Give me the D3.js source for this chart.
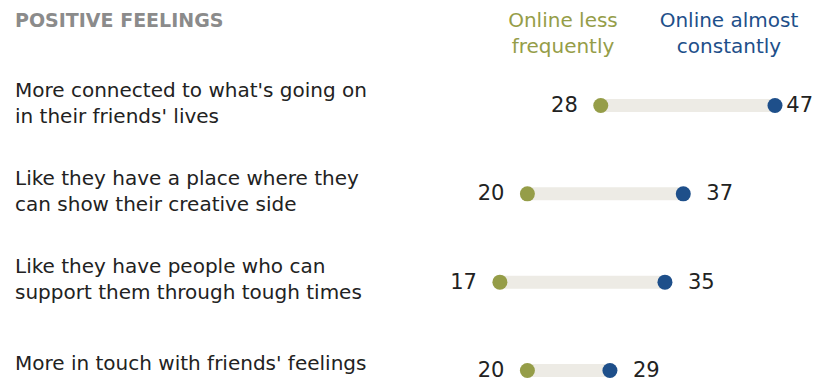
<!DOCTYPE html>
<html>
<head>
<meta charset="utf-8">
<script src="https://cdn.jsdelivr.net/npm/d3@7"></script>
<style>
    html, body { margin: 0; padding: 0; background: #fff; }
    svg { display: block; font-family: "DejaVu Sans", sans-serif; }
</style>
</head>
<body>
<svg id="chart" width="824" height="382"></svg>
<script>
'use strict';

// data
var categories = [
    ["More connected to what's going on", "in their friends' lives"],
    ["Like they have a place where they", "can show their creative side"],
    ["Like they have people who can", "support them through tough times"],
    ["More in touch with friends' feelings"]
];
var lessFrequently = [28, 20, 17, 20];
var almostConstantly = [47, 37, 35, 29];
var seriesNames = [["Online less", "frequently"], ["Online almost", "constantly"]];
var title = "POSITIVE FEELINGS";

var colors = { less: "#959d48", constant: "#1e4f8a", bar: "#edebe5", text: "#222", title: "#8b8b8b" };

var rows = categories.map(function(c, i) {
    return { id: i, label: c, less: lessFrequently[i], constant: almostConstantly[i] };
});

var svg = d3.select("#chart");

var x = d3.scaleLinear().domain([0, 50]).range([344, 802.5]);
var y = d3.scalePoint().domain(d3.range(rows.length)).range([105.5, 370.5]);

// title
svg.append("text")
    .attr("x", 15)
    .attr("y", 27)
    .style("font-size", "19px")
    .style("font-weight", "bold")
    .style("fill", colors.title)
    .text(title);

// series headers
var legend = svg.selectAll(".legend")
    .data([{ lines: seriesNames[0], cx: 563, color: colors.less },
           { lines: seriesNames[1], cx: 729, color: colors.constant }])
    .enter().append("text")
    .attr("class", "legend")
    .attr("text-anchor", "middle")
    .style("font-size", "20px")
    .style("fill", function(d) { return d.color; });

legend.selectAll("tspan")
    .data(function(d) { return d.lines.map(function(l) { return { t: l, cx: d.cx }; }); })
    .enter().append("tspan")
    .attr("x", function(d) { return d.cx; })
    .attr("y", function(d, i) { return 27 + i * 26; })
    .text(function(d) { return d.t; });

var row = svg.selectAll(".row")
    .data(rows)
    .enter().append("g")
    .attr("class", "row");

// category labels
var label = row.append("text")
    .style("font-size", "20px")
    .style("fill", colors.text);

label.selectAll("tspan")
    .data(function(d) {
        var top = y(d.id) - 9 + (2 - d.label.length) * 8;
        return d.label.map(function(l, i) { return { t: l, y: top + i * 26 }; });
    })
    .enter().append("tspan")
    .attr("x", 15)
    .attr("y", function(d) { return d.y; })
    .text(function(d) { return d.t; });

// connecting bar
row.append("line")
    .attr("x1", function(d) { return x(d.less); })
    .attr("x2", function(d) { return x(d.constant); })
    .attr("y1", function(d) { return y(d.id); })
    .attr("y2", function(d) { return y(d.id); })
    .style("stroke", colors.bar)
    .style("stroke-width", 13);

// dots
row.append("circle")
    .attr("cx", function(d) { return x(d.less); })
    .attr("cy", function(d) { return y(d.id); })
    .attr("r", 7.5)
    .style("fill", colors.less);

row.append("circle")
    .attr("cx", function(d) { return x(d.constant); })
    .attr("cy", function(d) { return y(d.id); })
    .attr("r", 7.5)
    .style("fill", colors.constant);

// value labels
row.append("text")
    .attr("x", function(d) { return x(d.less) - 23; })
    .attr("y", function(d) { return y(d.id) + 6.5; })
    .attr("text-anchor", "end")
    .style("font-size", "21px")
    .style("fill", colors.text)
    .text(function(d) { return d.less; });

row.append("text")
    .attr("x", function(d) { return x(d.constant) + 23; })
    .attr("y", function(d) { return y(d.id) + 6.5; })
    .style("font-size", "21px")
    .style("fill", colors.text)
    .text(function(d) { return d.constant; })
    .each(function() {
        // keep the label inside the right edge, as in the reference
        var w = this.getComputedTextLength();
        var x0 = +d3.select(this).attr("x");
        if (x0 + w > 813) {
            d3.select(this).attr("x", 813 - w);
        }
    });
</script>
</body>
</html>
